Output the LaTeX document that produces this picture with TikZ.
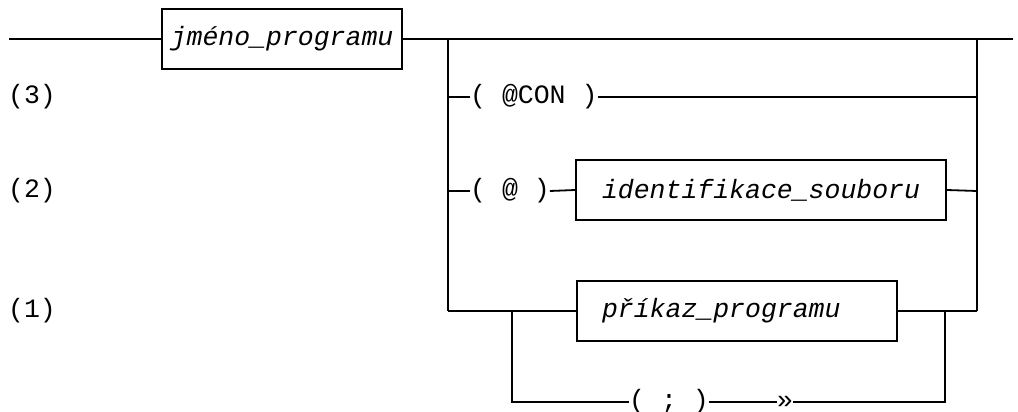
\documentclass[tikz,border=0pt]{standalone}
\usepackage{fontspec}
\setmonofont{Liberation Mono}
\begin{document}
\begin{tikzpicture}[x=1pt,y=-1pt,
  every node/.style={font=\ttfamily\fontsize{26.5}{30}\selectfont},
  wire/.style={line width=1.8pt},
  termbox/.style={draw,line width=1.8pt,minimum height=60pt,inner ysep=0pt,align=left,
    font=\ttfamily\itshape\fontsize{26.5}{30}\selectfont},
  lit/.style={inner sep=0pt,anchor=west},
  lbl/.style={inner sep=0pt,anchor=west}]
\useasboundingbox (0,0) rectangle (1018,412);
% coordinates
\coordinate (start) at (9,39);
\coordinate (stop) at (1013,39);
\coordinate (LT) at (448,39);
\coordinate (LB) at (448,311);
\coordinate (RT) at (977,39);
\coordinate (RB) at (977,311);
\coordinate (LA) at (448,97);
\coordinate (RA) at (977,97);
\coordinate (LC) at (448,191);
\coordinate (RC) at (977,191);
\coordinate (Q1) at (512,311);
\coordinate (Q2) at (512,402);
\coordinate (Q3) at (945,402);
\coordinate (Q4) at (945,311);
% nodes
\node[termbox,text width=222.6pt,inner xsep=8.7pt] (jm) at (282,39) {jméno\_programu};
\node[lit] (con) at (470,97) {( @CON )};
\node[lit] (at) at (470,191) {( @ )};
\node[termbox,text width=318pt,inner xsep=26pt] (id) at (761,190) {identifikace\_souboru};
\node[termbox,text width=270pt,inner xsep=25pt] (pp) at (737,311) {příkaz\_programu};
\node[lit] (semi) at (629,402) {( ; )};
\node[inner sep=0pt] (rep) at (785,402) {»};
\node[lbl] (l3) at (8,97) {(3)};
\node[lbl] (l2) at (8,191) {(2)};
\node[lbl] (l1) at (8,311) {(1)};
% connectors
\draw[wire] (start) -- (jm.west);
\draw[wire] (jm.east) -- (stop);
\draw[wire] (LT) -- (LB);
\draw[wire] (RT) -- (RB);
\draw[wire] (LA) -- (con.west);
\draw[wire] (con.east) -- (RA);
\draw[wire] (LC) -- (at.west);
\draw[wire] (at.east) -- (id.west);
\draw[wire] (id.east) -- (RC);
\draw[wire] (LB) -- (pp.west);
\draw[wire] (pp.east) -- (RB);
\draw[wire] (Q1) -- (Q2) -- (semi.west);
\draw[wire] (semi.east) -- (rep.west);
\draw[wire] (rep.east) -- (Q3) -- (Q4);
\end{tikzpicture}
\end{document}
